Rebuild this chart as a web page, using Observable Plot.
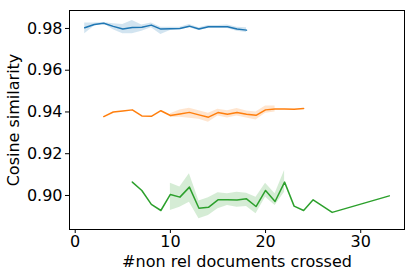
<!DOCTYPE html>
<html>
<head>
<meta charset="utf-8">
<script src="https://cdn.jsdelivr.net/npm/d3@7"></script>
<script src="https://cdn.jsdelivr.net/npm/@observablehq/plot@0.6"></script>
<style>
  html, body { margin: 0; padding: 0; background: #fff; }
  svg { font-family: "DejaVu Sans", sans-serif; }
</style>
</head>
<body>
<div id="chart"></div>
<script>
// Blue series
const blueX    = [1,2,3,4,5,6,7,8,9,10,11,12,13,14,15,16,17,18];
const blueMean = [0.9803,0.9819,0.9825,0.9810,0.9797,0.9805,0.9806,0.9816,0.9797,0.9798,0.9800,0.9811,0.9797,0.9808,0.9808,0.9808,0.9797,0.9792];
const blueLo   = [0.9775,0.9810,0.9822,0.9794,0.9775,0.9775,0.9787,0.9803,0.9771,0.9790,0.9794,0.9803,0.9790,0.9800,0.9800,0.9800,0.9787,0.9781];
const blueHi   = [0.9826,0.9826,0.9829,0.9822,0.9819,0.9838,0.9816,0.9826,0.9806,0.9806,0.9806,0.9819,0.9803,0.9814,0.9814,0.9816,0.9806,0.9803];

// Orange series
const orangeX    = [3,4,5,6,7,8,9,10,11,12,13,14,15,16,17,18,19,20,21,22,23,24];
const orangeMean = [0.9378,0.9400,0.9405,0.9410,0.9381,0.9379,0.9406,0.9383,0.9390,0.9398,0.9386,0.9375,0.9397,0.9389,0.9397,0.9389,0.9384,0.9410,0.9414,0.9414,0.9413,0.9416];
const orangeLo   = [null,null,null,null,null,null,null,0.9373,0.9375,0.9370,0.9365,0.9351,0.9381,0.9371,0.9381,0.9371,0.9362,0.9394,0.9400,null,null,null];
const orangeHi   = [null,null,null,null,null,null,null,0.9392,0.9410,0.9418,0.9406,0.9394,0.9413,0.9406,0.9416,0.9405,0.9400,0.9429,0.9429,null,null,null];

// Green series
const greenX    = [6,7,8,9,10,11,12,13,14,15,16,17,18,19,20,21,22,23,24,25,27,33];
const greenMean = [0.9064,0.9024,0.8957,0.8928,0.9005,0.8992,0.9040,0.8939,0.8943,0.8979,0.8979,0.8978,0.8984,0.8947,0.9024,0.8971,0.9064,0.8949,0.8928,0.8979,0.8919,0.8998];
const greenLo   = [null,null,null,null,0.8928,0.8944,0.8968,0.8888,0.8904,0.8936,0.8952,0.8944,0.8947,0.8912,0.8992,0.8952,0.9016,null,null,null,null,null];
const greenHi   = [null,null,null,null,0.9059,0.9040,0.9104,0.8973,0.8989,0.9013,0.9008,0.9016,0.9011,0.8992,0.9059,0.9008,0.9120,null,null,null,null,null];

const xTicks = [0, 10, 20, 30];
const yTicks = [0.90, 0.92, 0.94, 0.96, 0.98];

const colors = {blue: "#1f77b4", orange: "#ff7f0e", green: "#2ca02c"};

function rows(name, xs, mean, lo, hi) {
  return xs.map((x, i) => ({series: name, x, mean: mean[i], lo: lo[i], hi: hi[i]}));
}
const seriesList = [
  rows("blue", blueX, blueMean, blueLo, blueHi),
  rows("orange", orangeX, orangeMean, orangeLo, orangeHi),
  rows("green", greenX, greenMean, greenLo, greenHi)
];

const marks = [];
for (const s of seriesList) {
  const c = colors[s[0].series];
  marks.push(Plot.areaY(s, {x: "x", y1: d => d.lo, y2: d => d.hi, fill: c, fillOpacity: 0.2}));
  marks.push(Plot.lineY(s, {x: "x", y: "mean", stroke: c, strokeWidth: 1.5}));
}

const chart = Plot.plot({
  width: 414,
  height: 276,
  marginLeft: 69,
  marginRight: 10,
  marginTop: 10,
  marginBottom: 47,
  style: {fontSize: "16px", fontFamily: "DejaVu Sans, sans-serif", color: "#000", background: "#fff"},
  x: {domain: [-0.6, 34.6]},
  y: {domain: [0.8837, 0.9886]},
  marks: [
    ...marks,
    Plot.frame({stroke: "#000", strokeWidth: 1}),
    Plot.axisX({ticks: xTicks, tickSize: 4, tickPadding: 2, label: "#non rel documents crossed", labelAnchor: "center", labelOffset: 37, labelArrow: "none", fontSize: 16}),
    Plot.axisY({ticks: yTicks, tickFormat: d3.format(".2f"), tickSize: 4, tickPadding: 3, label: "Cosine similarity", labelAnchor: "center", labelOffset: 62, labelArrow: "none", fontSize: 16})
  ]
});
document.getElementById("chart").appendChild(chart);
</script>
</body>
</html>
